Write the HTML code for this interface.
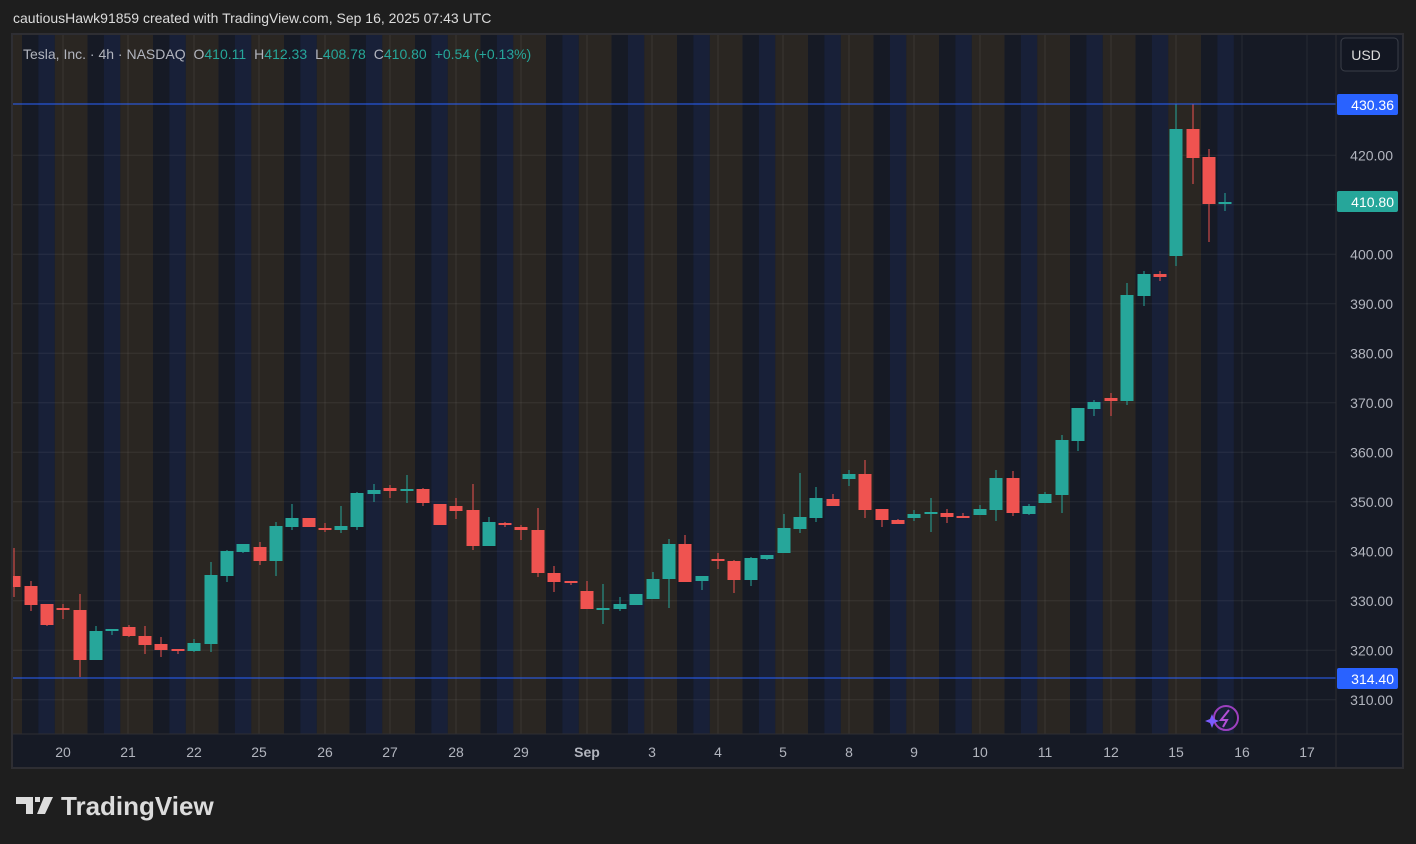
<!DOCTYPE html>
<html><head><meta charset="utf-8"><style>
body{margin:0;background:#1e1e1e;width:1416px;height:844px;overflow:hidden;font-family:"Liberation Sans",sans-serif;}
#top{position:absolute;left:13px;top:10px;color:#dcdcdc;font-size:14px;}
svg{position:absolute;left:0;top:0;}
</style></head><body>
<div id="top">cautiousHawk91859 created with TradingView.com, Sep 16, 2025 07:43 UTC</div>
<svg id="s" width="1416" height="844" xmlns="http://www.w3.org/2000/svg"></svg>
<script>
const NS="http://www.w3.org/2000/svg";const s=document.getElementById('s');
function el(t,a,txt){const e=document.createElementNS(NS,t);for(const k in a)e.setAttribute(k,a[k]);if(txt!==undefined)e.textContent=txt;s.appendChild(e);return e;}
// panel
el('rect',{x:12,y:34,width:1391,height:734,fill:'#161a25',stroke:'#2e2e33','stroke-width':2});
el('defs',{}).innerHTML='<clipPath id="c"><rect x="13" y="35" width="1323" height="699"/></clipPath>';
const g=document.createElementNS(NS,'g');g.setAttribute('clip-path','url(#c)');s.appendChild(g);
function ge(t,a){const e=document.createElementNS(NS,t);for(const k in a)e.setAttribute(k,a[k]);g.appendChild(e);return e;}
for(let k=-1;k<=18;k++){const d=22+65.5*k;
 ge('rect',{x:d+16.4,y:35,width:16.4,height:699,fill:'#182038'});
 if(k<18)ge('rect',{x:d+32.8,y:35,width:32.7,height:699,fill:'#2a2622'});}
// grid
for(let p=310;p<=420;p+=10){const y=104+(430.36-p)*4.95;ge('line',{x1:13,x2:1336,y1:y,y2:y,stroke:'rgba(255,255,255,0.07)'});}
const days=[['20',63],['21',128],['22',194],['25',259],['26',325],['27',390],['28',456],['29',521],['Sep',587],['3',652],['4',718],['5',783],['8',849],['9',914],['10',980],['11',1045],['12',1111],['15',1176],['16',1242],['17',1307]];
days.forEach(d=>ge('line',{x1:d[1],x2:d[1],y1:35,y2:734,stroke:'rgba(255,255,255,0.07)'}));
// candles [x, bodyTop, bodyBot, wickTop, wickBot, up]
const C=[[14,576,587,548,597,0],[31,586,605,581,611,0],[47,604,625,604,626,0],[63,608,610,604,619,0],[80,610,660,594,677,0],[96,631,660,626,660,1],[112,629,631,629,635,1],[129,627,636,625,637,0],[145,636,645,626,654,0],[161,644,650,637,657,0],[178,649,650,649,654,0],[194,643,651,639,652,1],[211,575,644,562,652,1],[227,551,576,550,582,1],[243,544,552,544,553,1],[260,547,561,542,565,0],[276,526,561,522,576,1],[292,518,527,504,530,1],[309,518,527,518,527,0],[325,528,530,523,532,0],[341,526,530,506,533,1],[357,493,527,492,530,1],[374,490,494,484,502,1],[390,488,491,485,498,0],[407,489,491,475,503,1],[423,489,503,488,506,0],[440,504,525,504,525,0],[456,506,511,498,519,0],[473,510,546,484,550,0],[489,522,546,517,546,1],[505,523,524,522,527,0],[521,527,530,525,540,0],[538,530,573,508,577,0],[554,573,582,566,592,0],[571,581,582,581,585,0],[587,591,609,581,609,0],[603,608,609,584,624,1],[620,604,609,597,611,1],[636,594,605,594,605,1],[653,579,599,572,599,1],[669,544,579,539,608,1],[685,544,582,535,582,0],[702,576,581,576,590,1],[718,559,561,553,569,0],[734,561,580,560,593,0],[751,558,580,557,586,1],[767,555,559,555,560,1],[784,528,553,514,553,1],[800,517,529,473,533,1],[816,498,518,487,522,1],[833,499,506,494,506,0],[849,474,479,470,486,1],[865,474,510,460,518,0],[882,509,520,509,527,0],[898,520,524,519,524,0],[914,514,518,510,521,1],[931,512,514,498,532,1],[947,513,517,509,523,0],[963,516,517,513,518,0],[980,509,515,505,515,1],[996,478,510,470,521,1],[1013,478,513,471,516,0],[1029,506,514,504,515,1],[1045,494,503,492,503,1],[1062,440,495,435,513,1],[1078,408,441,408,451,1],[1094,402,409,400,416,1],[1111,398,401,393,416,0],[1127,295,401,283,405,1],[1144,274,296,271,306,1],[1160,274,277,271,281,0],[1176,129,256,104,266,1],[1193,129,158,104,184,0],[1209,157,204,149,242,0],[1225,202,204,193,211,1]];
C.forEach(c=>{const col=c[5]?'#26a69a':'#ef5350';
 ge('line',{x1:c[0],x2:c[0],y1:c[3],y2:c[4],stroke:col,'stroke-width':1});
 ge('rect',{x:c[0]-6.5,y:c[1],width:13,height:Math.max(2,c[2]-c[1]),fill:col});});
// horizontal lines
ge('line',{x1:13,x2:1336,y1:104,y2:104,stroke:'#2962ff','stroke-width':1});
ge('line',{x1:13,x2:1336,y1:678,y2:678,stroke:'#2962ff','stroke-width':1});
// axes separators
el('line',{x1:1336,x2:1336,y1:35,y2:768,stroke:'#2e2e33','stroke-width':1});
el('line',{x1:13,x2:1403,y1:734,y2:734,stroke:'#2e2e33','stroke-width':1});
// price labels
for(let p=310;p<=420;p+=10){if(p===410)continue;const y=104+(430.36-p)*4.95;el('text',{x:1393,y:y+5,fill:'#b2b5be','font-size':14,'text-anchor':'end'},p.toFixed(2));}
el('rect',{x:1337,y:94,width:61,height:21,fill:'#2962ff',rx:2});
el('text',{x:1394,y:110,fill:'#fff','font-size':14,'text-anchor':'end'},'430.36');
el('rect',{x:1337,y:191,width:61,height:21,fill:'#26a69a',rx:2});
el('text',{x:1394,y:207,fill:'#fff','font-size':14,'text-anchor':'end'},'410.80');
el('rect',{x:1337,y:668,width:61,height:21,fill:'#2962ff',rx:2});
el('text',{x:1394,y:684,fill:'#fff','font-size':14,'text-anchor':'end'},'314.40');
// USD
el('rect',{x:1341,y:38,width:57,height:33,fill:'#131722',stroke:'#3a3e48',rx:4});
el('text',{x:1366,y:60,fill:'#dcdcdc','font-size':14,'text-anchor':'middle'},'USD');
// time labels
days.forEach(d=>el('text',{x:d[1],y:757,fill:'#b2b5be','font-size':14,'text-anchor':'middle','font-weight':d[0]==='Sep'?'bold':'normal'},d[0]));
// legend
const L=el('text',{x:23,y:59,'font-size':14,fill:'#b2b5be'});
L.innerHTML='Tesla, Inc. · 4h · NASDAQ  <tspan dx="4">O</tspan><tspan fill="#26a69a">410.11</tspan><tspan dx="8">H</tspan><tspan fill="#26a69a">412.33</tspan><tspan dx="8">L</tspan><tspan fill="#26a69a">408.78</tspan><tspan dx="8">C</tspan><tspan fill="#26a69a">410.80</tspan><tspan dx="8" fill="#26a69a">+0.54 (+0.13%)</tspan>';
// icon
el('circle',{cx:1226,cy:718,r:12,fill:'none',stroke:'#9c3fbf','stroke-width':2});
el('path',{d:'M1229 710 L1221 720 L1227 720 L1223 727',fill:'none',stroke:'#b24fd6','stroke-width':2});
el('path',{d:'M1212 714 L1214 719 L1219 721 L1214 723 L1212 728 L1210 723 L1205 721 L1210 719Z',fill:'#7b5cff'});
// logo
el('path',{d:'M16 797 H33 V814 H26 V804 H16Z M35 797 h5 v5 h-5z M44 797 H53 L45 814 H37Z',fill:'#dcdcdc'});
el('text',{x:61,y:815,fill:'#dcdcdc','font-size':26,'font-weight':'bold'},'TradingView');
</script>
</body></html>
